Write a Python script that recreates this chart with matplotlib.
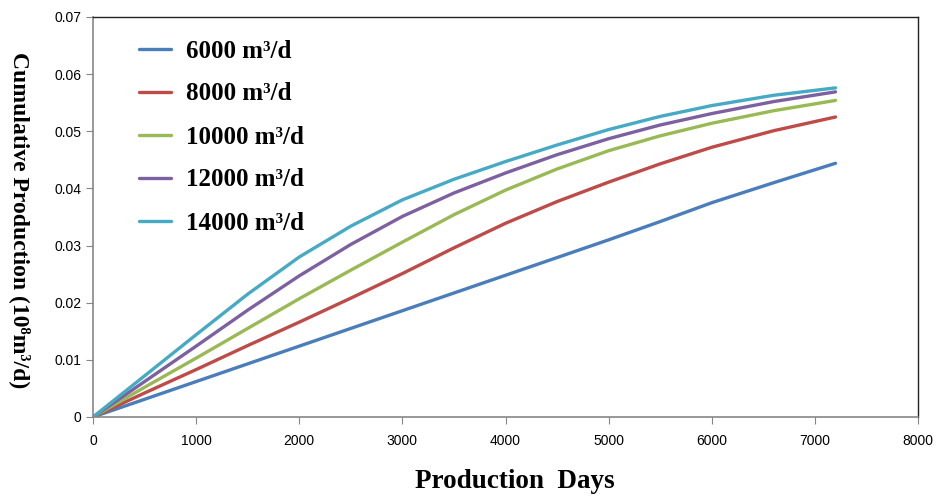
import matplotlib
matplotlib.use("Agg")
import matplotlib.pyplot as plt

days = [0, 500, 1000, 1500, 2000, 2500, 3000, 3500, 4000, 4500, 5000, 5500, 6000, 6600, 7200]

q6000 = [0, 0.0031, 0.0062, 0.0093, 0.0124, 0.0155, 0.0186, 0.0217, 0.0248, 0.0279,
         0.0310, 0.0342, 0.0375, 0.0410, 0.0444]
q8000 = [0, 0.0042, 0.0083, 0.0125, 0.0166, 0.0208, 0.0251, 0.0296, 0.0339, 0.0377,
         0.0411, 0.0443, 0.0472, 0.0501, 0.0525]
q10000 = [0, 0.0052, 0.0103, 0.0155, 0.0207, 0.0257, 0.0306, 0.0354, 0.0397, 0.0434,
          0.0466, 0.0492, 0.0514, 0.0536, 0.0554]
q12000 = [0, 0.0062, 0.0124, 0.0187, 0.0247, 0.0302, 0.0351, 0.0392, 0.0427, 0.0459,
          0.0487, 0.0511, 0.0531, 0.0552, 0.0569]
q14000 = [0, 0.0072, 0.0144, 0.0215, 0.0280, 0.0334, 0.0380, 0.0416, 0.0447, 0.0476,
          0.0503, 0.0526, 0.0545, 0.0563, 0.0576]

labels = ["6000 m³/d", "8000 m³/d", "10000 m³/d", "12000 m³/d", "14000 m³/d"]
colors = ["#4A7EBB", "#BE4B48", "#98B954", "#7D60A0", "#46AAC5"]
series = [q6000, q8000, q10000, q12000, q14000]

serif = ["Liberation Serif", "DejaVu Serif"]

fig = plt.figure(figsize=(9.43, 4.99), dpi=100)
ax = fig.add_axes([93 / 943, 1 - 417 / 499, (918 - 93) / 943, (417 - 17) / 499])

for y, lab, c in zip(series, labels, colors):
    ax.plot(days, y, color=c, lw=2.4, label=lab, solid_capstyle="round",
            solid_joinstyle="round")

ax.set_xlim(0, 8000)
ax.set_ylim(0, 0.07)
ax.set_xticks(range(0, 8001, 1000))
ax.set_yticks([0, 0.01, 0.02, 0.03, 0.04, 0.05, 0.06, 0.07])
ax.set_yticklabels(["0", "0.01", "0.02", "0.03", "0.04", "0.05", "0.06", "0.07"])

for s in ["left", "bottom"]:
    ax.spines[s].set_color("#868686")
    ax.spines[s].set_linewidth(1.2)
for s in ["top", "right"]:
    ax.spines[s].set_color("#222222")
    ax.spines[s].set_linewidth(1.0)
ax.tick_params(direction="out", length=5, color="#868686", labelsize=10,
               labelcolor="black")
ax.tick_params(axis="x", pad=7)
for t in ax.get_xticklabels() + ax.get_yticklabels():
    t.set_family("Liberation Sans")

leg = ax.legend(loc="upper left", bbox_to_anchor=(0.029, 1.0), frameon=False,
                handlelength=1.28, labelspacing=0.8, handletextpad=0.6,
                prop={"family": serif, "weight": "bold", "size": 18})

fig.text(515 / 943, 1 - 481 / 499, "Production  Days", ha="center", va="center",
         family=serif, weight="bold", fontsize=19.5)
fig.text(20 / 943, 1 - 220 / 499, "Cumulative Production (10⁸m³/d)", ha="center",
         va="center", rotation=-90, family=serif, weight="bold", fontsize=17)

fig.savefig("out.png", dpi=100)
